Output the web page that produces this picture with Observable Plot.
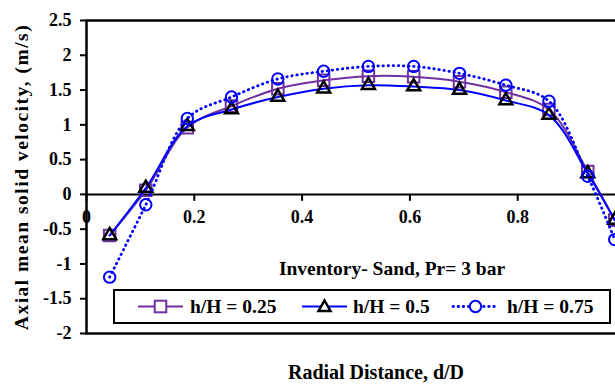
<!DOCTYPE html>
<html><head><meta charset="utf-8">
<script src="https://cdn.jsdelivr.net/npm/d3@7"></script>
<script src="https://cdn.jsdelivr.net/npm/@observablehq/plot@0.6"></script>
<style>
body{margin:0;background:#fff;}
#wrap{position:relative;width:615px;height:388px;overflow:hidden;font-family:"Liberation Serif",serif;font-weight:bold;color:#000;}
#wrap svg.plot{position:absolute;left:0;top:0;}
#note{position:absolute;left:392px;top:269px;transform:translate(-50%,-50%);font-size:19.5px;white-space:nowrap;}
#ytitle{position:absolute;left:22px;top:177px;transform:translate(-50%,-50%) rotate(-90deg);font-size:19.5px;letter-spacing:1.5px;white-space:nowrap;line-height:1;}
#legend{position:absolute;left:0;top:0;}
</style></head><body><div id="wrap"></div>
<script>
// ---- data ----
const radialDistance = [0.043, 0.11, 0.187, 0.269, 0.355, 0.44, 0.523, 0.607, 0.692, 0.778, 0.858, 0.93, 0.98];
const velocity025 = [-0.59, 0.06, 0.96, 1.27, 1.52, 1.64, 1.70, 1.69, 1.62, 1.47, 1.22, 0.33, -0.37];
const velocity050 = [-0.59, 0.09, 0.98, 1.22, 1.40, 1.52, 1.57, 1.55, 1.50, 1.35, 1.14, 0.30, -0.37];
const velocity075 = [-1.19, -0.15, 1.09, 1.40, 1.66, 1.77, 1.84, 1.84, 1.74, 1.57, 1.34, 0.26, -0.65];
const seriesNames = ["h/H = 0.25", "h/H = 0.5", "h/H = 0.75"];
const xTicks = [0, 0.2, 0.4, 0.6, 0.8];
const xTickLabels = ["0", "0.2", "0.4", "0.6", "0.8"];
const yTicks = [-2, -1.5, -1, -0.5, 0, 0.5, 1, 1.5, 2, 2.5];
const yTickLabels = ["-2", "-1.5", "-1", "-0.5", "0", "0.5", "1", "1.5", "2", "2.5"];
const xTitle = "Radial Distance, d/D";
const yTitle = "Axial mean solid velocity, (m/s)";
const note = "Inventory- Sand, Pr= 3 bar";

const rows = (vals, s) => radialDistance.map((x, i) => ({x, y: vals[i], s}));
const d25 = rows(velocity025, seriesNames[0]);
const d50 = rows(velocity050, seriesNames[1]);
const d75 = rows(velocity075, seriesNames[2]);

const PURPLE = "#7030A0", BLUE = "#0000FF";
const dotted = "0.5 4.6";

const chart = Plot.plot({
  width: 615, height: 388,
  marginTop: 20, marginLeft: 86, marginRight: -10, marginBottom: 55,
  style: {fontFamily: '"Liberation Serif", serif', fontWeight: "bold", fontSize: "18px", background: "transparent", color: "black"},
  x: {domain: [0, 1], axis: null},
  y: {domain: [-2, 2.5]},
  marks: [
    Plot.ruleY([0], {stroke: "black", strokeWidth: 2}),
    Plot.ruleX(xTicks, {x: d => d, y1: 0, y2: -0.1, stroke: "black", strokeWidth: 2}),
    Plot.text(xTicks, {x: d => d, y: 0, dy: 23, text: (d, i) => xTickLabels[i], fontSize: 18}),
    Plot.axisY(yTicks, {tickSize: 6, tickPadding: 9, strokeWidth: 2, fontSize: 18,
      tickFormat: d => yTickLabels[yTicks.indexOf(d)], label: null}),
    Plot.text([xTitle], {frameAnchor: "bottom", dy: 45, dx: 20, fontSize: 20, text: d => d}),
    Plot.line(d25, {x: "x", y: "y", curve: "catmull-rom", stroke: PURPLE, strokeWidth: 2}),
    Plot.dot(d25, {x: "x", y: "y", symbol: "square", r: 6.5, stroke: PURPLE, strokeWidth: 2, fill: "none"}),
    Plot.line(d50, {x: "x", y: "y", curve: "catmull-rom", stroke: BLUE, strokeWidth: 2}),
    Plot.dot(d50, {x: "x", y: "y", symbol: "triangle", r: 4.8, stroke: "black", strokeWidth: 2.5, fill: "none"}),
    Plot.line(d75, {x: "x", y: "y", curve: "catmull-rom", stroke: BLUE, strokeWidth: 2.8, strokeDasharray: dotted, strokeLinecap: "round"}),
    Plot.dot(d75, {x: "x", y: "y", symbol: "circle", r: 5.7, stroke: BLUE, strokeWidth: 2, fill: "none"}),
    Plot.frame({stroke: "black", strokeWidth: 2.5})
  ]
});
chart.classList.add("plot");
const wrap = document.getElementById("wrap");
wrap.appendChild(chart);

// y-axis title
const yt = document.createElement("div");
yt.id = "ytitle"; yt.textContent = yTitle;
wrap.appendChild(yt);

// annotation
const nt = document.createElement("div");
nt.id = "note"; nt.textContent = note;
wrap.appendChild(nt);

// legend (inside plot area, bottom)
const NS = "http://www.w3.org/2000/svg";
const lg = document.createElementNS(NS, "svg");
lg.setAttribute("id", "legend");
lg.setAttribute("width", 615); lg.setAttribute("height", 388);
const el = (tag, attrs) => { const e = document.createElementNS(NS, tag); for (const k in attrs) e.setAttribute(k, attrs[k]); lg.appendChild(e); return e; };
el("rect", {x: 114, y: 290, width: 496, height: 33, fill: "white", stroke: "black", "stroke-width": 2});
const cy = 306.5;
const items = [
  {x0: 138, x1: 183, stroke: PURPLE, dash: null, w: 2, tx: 190, sym: "square", ms: PURPLE},
  {x0: 302, x1: 347, stroke: BLUE, dash: null, w: 2, tx: 353, sym: "triangle", ms: "black"},
  {x0: 453, x1: 498, stroke: BLUE, dash: dotted, w: 2.8, tx: 507, sym: "circle", ms: BLUE}
];
items.forEach((it, i) => {
  const ln = el("line", {x1: it.x0, x2: it.x1, y1: cy, y2: cy, stroke: it.stroke, "stroke-width": it.w});
  if (it.dash) { ln.setAttribute("stroke-dasharray", it.dash); ln.setAttribute("stroke-linecap", "round"); }
  const mx = (it.x0 + it.x1) / 2;
  if (it.sym === "square") el("rect", {x: mx - 5.8, y: cy - 5.8, width: 11.6, height: 11.6, fill: "white", stroke: it.ms, "stroke-width": 2});
  if (it.sym === "circle") el("circle", {cx: mx, cy, r: 5.7, fill: "white", stroke: it.ms, "stroke-width": 2});
  if (it.sym === "triangle") el("path", {d: `M${mx},${cy - 6}L${mx + 6},${cy + 4.5}L${mx - 6},${cy + 4.5}Z`, fill: "white", stroke: it.ms, "stroke-width": 2.5});
  const t = el("text", {x: it.tx, y: cy, "dominant-baseline": "central", "font-size": 19.5, "font-family": '"Liberation Serif", serif', "font-weight": "bold"});
  t.textContent = seriesNames[i];
});
wrap.appendChild(lg);
</script>
</body></html>
